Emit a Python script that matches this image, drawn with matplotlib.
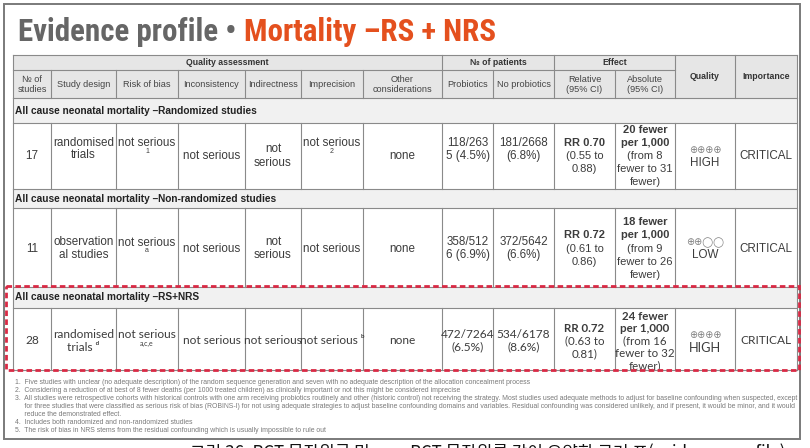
import matplotlib
matplotlib.use("Agg")
import matplotlib.pyplot as plt
from matplotlib.patches import Rectangle

# ---------------- data ----------------
title_gray = "Evidence profile • "
title_red = "Mortality –RS + NRS"

col_headers = ["№ of\nstudies", "Study design", "Risk of bias", "Inconsistency", "Indirectness",
               "Imprecision", "Other\nconsiderations", "Probiotics", "No probiotics",
               "Relative\n(95% CI)", "Absolute\n(95% CI)", "Quality", "Importance"]
group_headers = ["Quality assessment", "№ of patients", "Effect"]

section_titles = ["All cause neonatal mortality –Randomized studies",
                  "All cause neonatal mortality –Non-randomized studies",
                  "All cause neonatal mortality –RS+NRS"]

n_studies = ["17", "11", "28"]
study_design = [["randomised", "trials"], ["observation", "al studies"], ["randomised", "trials ᵈ"]]
risk_of_bias = ["not serious", "not serious", "not serious"]
risk_of_bias_note = ["1", "a", "a,c,e"]
inconsistency = [["not serious"], ["not serious"], ["not serious"]]
indirectness = [["not", "serious"], ["not", "serious"], ["not serious"]]
imprecision = ["not serious", "not serious", "not serious ᵇ"]
imprecision_note = ["2", "", ""]
other = ["none", "none", "none"]
probiotics = [["118/263", "5 (4.5%)"], ["358/512", "6 (6.9%)"], ["472/7264", "(6.5%)"]]
no_probiotics = [["181/2668", "(6.8%)"], ["372/5642", "(6.6%)"], ["534/6178", "(8.6%)"]]
relative_rr = ["RR 0.70", "RR 0.72", "RR 0.72"]
relative_ci = [["(0.55 to", "0.88)"], ["(0.61 to", "0.86)"], ["(0.63 to", "0.81)"]]
absolute_est = [["20 fewer", "per 1,000"], ["18 fewer", "per 1,000"], ["24 fewer", "per 1,000"]]
absolute_ci = [["(from 8", "fewer to 31", "fewer)"], ["(from 9", "fewer to 26", "fewer)"],
               ["(from 16", "fewer to 32", "fewer)"]]
quality_symbols = ["⊕⊕⊕⊕", "⊕⊕◯◯", "⊕⊕⊕⊕"]
quality_label = ["HIGH", "LOW", "HIGH"]
importance = ["CRITICAL", "CRITICAL", "CRITICAL"]

footnotes = [
    "1.  Five studies with unclear (no adequate description) of the random sequence generation and seven with no adequate description of the allocation concealment process",
    "2.  Considering a reduction of at best of 8 fewer deaths (per 1000 treated children) as clinically important or not this might be considered imprecise",
    "3.  All studies were retrospective cohorts with historical controls with one arm receiving probiotics routinely and other (historic control) not receiving the strategy. Most studies used adequate methods to adjust for baseline confounding when suspected, except",
    "     for three studies that were classified as serious risk of bias (ROBINS-I) for not using adequate strategies to adjust baseline confounding domains and variables. Residual confounding was considered unlikely, and if present, it would be minor, and it would",
    "     reduce the demonstrated effect.",
    "4.  Includes both randomized and non-randomized studies",
    "5.  The risk of bias in NRS stems from the residual confounding which is usually impossible to rule out",
]
caption = "그림 36. RCT 무작위군 및 non-RCT 무작위를 같이 요약한 근거 표(evidence profile)"

# ---------------- layout ----------------
xe = [13, 51, 116, 178, 245, 301, 363, 442, 493, 554, 615, 675, 735, 797]
y_h1, y_h2, y_h3 = 55, 70, 98
sec_tops = [98, 189, 287]
sec_bots = [123, 208, 308]
row_bots = [189, 287, 370]
row_shift = [0, 1, 2]
two_line_shift = [-7, 0, 0]
line_sp = [13.0, 13.3, 12.4]

BODY = ["Liberation Sans", "DejaVu Sans"]
BODY3 = ["Lato", "DejaVu Sans"]
TITLE_FAM = ["Roboto Condensed", "Liberation Sans Narrow", "DejaVu Sans Condensed", "Roboto", "DejaVu Sans"]
TXT = "#3c3c3c"
GRID = "#8a8a8a"
HDR_BG = "#e6e6e6"
SEC_BG = "#f1f1f1"

fig = plt.figure(figsize=(8.10, 4.48), dpi=100)
ax = fig.add_axes([0, 0, 1, 1])
ax.set_xlim(0, 810)
ax.set_ylim(448, 0)
ax.axis("off")

# outer frame
ax.add_patch(Rectangle((4, 4), 796, 435, fill=False, ec="#7a7a7a", lw=1.4, zorder=5))

# title (auto-fit to the reference width)
renderer = fig.canvas.get_renderer()
t_fs = 26
tg = ax.text(18, 41, title_gray, fontsize=t_fs, fontweight="bold", color="#666666",
             family=TITLE_FAM, va="baseline", ha="left")
tr = ax.text(243, 41, title_red, fontsize=t_fs, fontweight="bold", color="#E4501E",
             family=TITLE_FAM, va="baseline", ha="left")
wg = tg.get_window_extent(renderer).width
wr = tr.get_window_extent(renderer).width
scale = min(1.0, 479.0 / (wg + wr))
tg.set_fontsize(t_fs * scale)
tr.set_fontsize(t_fs * scale)
wg = tg.get_window_extent(renderer).width
tr.set_x(18 + wg)

# backgrounds
ax.add_patch(Rectangle((xe[0], y_h1), xe[-1] - xe[0], y_h3 - y_h1, fc=HDR_BG, ec="none", zorder=0))
for t, b in zip(sec_tops, sec_bots):
    ax.add_patch(Rectangle((xe[0], t), xe[-1] - xe[0], b - t, fc=SEC_BG, ec="none", zorder=0))

def hline(y, x0=xe[0], x1=xe[-1]):
    ax.plot([x0, x1], [y, y], color=GRID, lw=0.8, zorder=2)

def vline(x, y0, y1):
    ax.plot([x, x], [y0, y1], color=GRID, lw=0.8, zorder=2)

# header grid
hline(y_h1); hline(y_h3)
hline(y_h2, xe[0], xe[11])
for x in [xe[0], xe[7], xe[9], xe[11], xe[12], xe[13]]:
    vline(x, y_h1, y_h3)
for x in xe[1:11]:
    if x not in (xe[7], xe[9]):
        vline(x, y_h2, y_h3)

HFS = 6.6
for (a, b), g in zip([(0, 7), (7, 9), (9, 11)], group_headers):
    ax.text((xe[a] + xe[b]) / 2, (y_h1 + y_h2) / 2, g, fontsize=HFS - 0.3, fontweight="bold",
            color="#333333", family=BODY, ha="center", va="center")
for i, h in enumerate(col_headers):
    xc = (xe[i] + xe[i + 1]) / 2
    if i >= 11:
        ax.text(xc, (y_h1 + y_h3) / 2, h, fontsize=HFS - 0.3, fontweight="bold", color="#333333",
                family=BODY, ha="center", va="center")
    else:
        ax.text(xc, (y_h2 + y_h3) / 2 + 0.5, h, fontsize=HFS, color="#444444", family=BODY,
                ha="center", va="center", linespacing=1.15)

def cell(col, yc, lines, fam, ls):
    n = len(lines)
    xc = (xe[col] + xe[col + 1]) / 2
    y0 = yc - (n - 1) * ls / 2
    for k, (t, s, w) in enumerate(lines):
        ax.text(xc, y0 + k * ls, t, fontsize=s, fontweight=w, color=TXT, family=fam,
                ha="center", va="center")

for r in range(3):
    st, sb, rb = sec_tops[r], sec_bots[r], row_bots[r]
    hline(sb); hline(rb)
    vline(xe[0], st, rb); vline(xe[-1], st, rb)
    ax.text(xe[0] + 2, (st + sb) / 2, section_titles[r], fontsize=7.3, fontweight="bold",
            color="#222222", family=BODY, ha="left", va="center")
    for x in xe[1:-1]:
        vline(x, sb, rb)
    fam = BODY3 if r == 2 else BODY
    fs = 8.4 if r < 2 else 8.6
    efs = 8.0 if r < 2 else 8.3
    sm = 5.0
    ls = line_sp[r]
    yc = (sb + rb) / 2 + row_shift[r]
    y2 = yc + two_line_shift[r]
    cell(0, yc, [(n_studies[r], fs, "normal")], fam, ls)
    cell(1, y2, [(t, fs, "normal") for t in study_design[r]], fam, ls)
    cell(2, y2 - 6, [(risk_of_bias[r], fs, "normal")], fam, ls)
    ax.text((xe[2] + xe[3]) / 2, y2 + 2.5, risk_of_bias_note[r], fontsize=sm, color=TXT, family=fam,
            ha="center", va="center")
    cell(3, yc, [(t, fs, "normal") for t in inconsistency[r]], fam, ls)
    cell(4, yc, [(t, fs, "normal") for t in indirectness[r]], fam, ls)
    if imprecision_note[r]:
        cell(5, y2 - 6, [(imprecision[r], fs, "normal")], fam, ls)
        ax.text((xe[5] + xe[6]) / 2, y2 + 2.5, imprecision_note[r], fontsize=sm, color=TXT,
                family=fam, ha="center", va="center")
    else:
        cell(5, yc, [(imprecision[r], fs, "normal")], fam, ls)
    cell(6, yc, [(other[r], fs, "normal")], fam, ls)
    cell(7, y2, [(t, fs, "normal") for t in probiotics[r]], fam, ls)
    cell(8, y2, [(t, fs, "normal") for t in no_probiotics[r]], fam, ls)
    cell(9, yc, [(relative_rr[r], efs, "bold")] + [(t, efs, "normal") for t in relative_ci[r]], fam, ls)
    cell(10, yc, [(t, efs, "bold") for t in absolute_est[r]] + [(t, efs, "normal") for t in absolute_ci[r]],
         fam, ls)
    ax.text((xe[11] + xe[12]) / 2, yc - 6, quality_symbols[r], fontsize=7, color="#808080",
            family=["DejaVu Sans"], ha="center", va="center")
    ax.text((xe[11] + xe[12]) / 2, yc + 7, quality_label[r], fontsize=fs if r < 2 else 9.2,
            color=TXT, family=fam, ha="center", va="center")
    cell(12, yc, [(importance[r], fs, "normal")], fam, ls)

# red dashed highlight
ax.add_patch(Rectangle((6, 286), 793, 84, fill=False, ec="#D92A45", lw=2.0,
                       ls=(0, (2.0, 1.2)), zorder=6))

# footnotes
for k, t in enumerate(footnotes):
    ax.text(15, 382.5 + k * 8.0, t, fontsize=4.95, color="#7a7a7a", family=BODY,
            ha="left", va="center")

# caption (cut off at bottom in the reference)
ax.text(190, 443.5, caption, fontsize=12.2, color="#111111",
        family=["Noto Sans CJK KR", "DejaVu Sans"], ha="left", va="top")

fig.savefig("out.png", dpi=100)
